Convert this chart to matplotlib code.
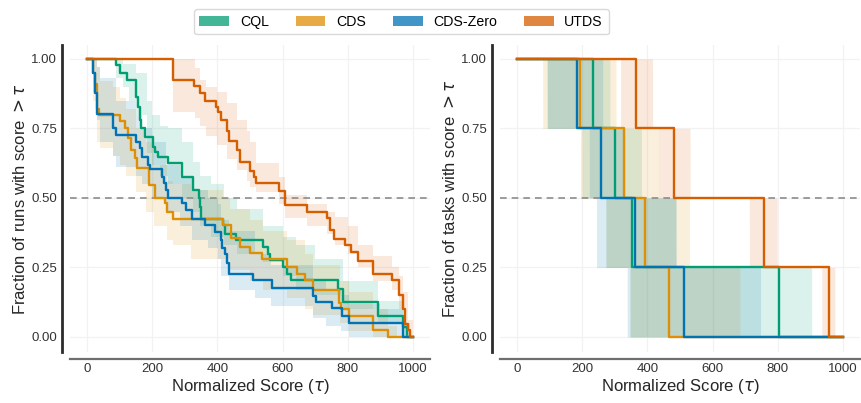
import numpy as np
import matplotlib
matplotlib.use('Agg')
import matplotlib.pyplot as plt
from matplotlib.patches import Patch

plt.rcParams['font.family'] = ['Liberation Sans', 'DejaVu Sans']
plt.rcParams['mathtext.fontset'] = 'dejavusans'

methods = ['CQL', 'CDS', 'CDS-Zero', 'UTDS']
colors = ['#029e73', '#de8f05', '#0173b2', '#d55e00']
xticks = [0, 200, 400, 600, 800, 1000]
yticks = [0.0, 0.25, 0.5, 0.75, 1.0]

# ---- Left panel: run score profiles (tau where the fraction changes, fraction from there on)
cql_tau = [0, 88, 102, 123, 151, 156, 162, 167, 177, 202, 208, 218, 248, 292, 325, 343, 346, 351,
           417, 422, 458, 540, 555, 560, 602, 612, 627, 770, 785, 893, 969, 980]
cql_frac = [1.0, 0.978, 0.948, 0.924, 0.864, 0.828, 0.780, 0.750, 0.720, 0.684, 0.666, 0.648, 0.624,
            0.576, 0.528, 0.498, 0.468, 0.426, 0.402, 0.372, 0.348, 0.324, 0.300, 0.276, 0.252, 0.228,
            0.204, 0.174, 0.126, 0.074, 0.036, 0.0]

cds_tau = [0, 19, 25, 30, 38, 100, 116, 126, 136, 147, 152, 190, 209, 239, 244, 263, 417, 441, 469,
           501, 536, 612, 645, 668, 693, 774, 779, 805, 878, 924]
cds_frac = [1.0, 0.95, 0.91, 0.82, 0.800, 0.776, 0.750, 0.714, 0.673, 0.643, 0.607, 0.545, 0.500,
            0.481, 0.451, 0.425, 0.403, 0.355, 0.325, 0.302, 0.280, 0.252, 0.228, 0.205, 0.170,
            0.124, 0.100, 0.076, 0.025, 0.0]

zero_tau = [0, 19, 24, 30, 80, 88, 149, 162, 170, 187, 193, 230, 235, 241, 249, 290, 305, 321, 363,
            393, 410, 414, 423, 430, 436, 510, 568, 694, 702, 751, 781, 805, 970]
zero_frac = [1.0, 0.948, 0.876, 0.802, 0.750, 0.725, 0.700, 0.678, 0.648, 0.620, 0.603, 0.576, 0.552,
             0.528, 0.500, 0.481, 0.457, 0.425, 0.402, 0.379, 0.348, 0.320, 0.300, 0.265, 0.228,
             0.204, 0.175, 0.147, 0.127, 0.103, 0.076, 0.050, 0.0]

utds_tau = [0, 265, 328, 346, 363, 395, 402, 410, 428, 435, 461, 470, 500, 512, 517, 590, 607, 676,
            737, 745, 757, 790, 810, 831, 876, 934, 958, 970, 974, 983, 990]
utds_frac = [1.0, 0.924, 0.903, 0.878, 0.850, 0.828, 0.810, 0.780, 0.742, 0.705, 0.672, 0.630, 0.598,
             0.575, 0.552, 0.526, 0.475, 0.451, 0.427, 0.385, 0.351, 0.331, 0.307, 0.274, 0.228,
             0.206, 0.150, 0.100, 0.048, 0.024, 0.0]

# confidence bands (left panel)
cql_band_tau = [0, 88, 112, 130, 150, 183, 198, 224, 249, 292, 325, 347, 380, 420, 460, 540, 600, 640,
                700, 786, 894, 970, 990]
cql_band_hi = [1, 1, 0.98, 0.98, 0.95, 0.85, 0.80, 0.76, 0.75, 0.70, 0.63, 0.58, 0.55, 0.50, 0.46,
               0.40, 0.36, 0.33, 0.28, 0.20, 0.13, 0.05, 0]
cql_band_lo = [1, 0.93, 0.90, 0.85, 0.80, 0.66, 0.62, 0.58, 0.55, 0.50, 0.45, 0.40, 0.36, 0.33, 0.30,
               0.27, 0.22, 0.17, 0.15, 0.10, 0.05, 0.0, 0]

cds_band_tau = [0, 18, 30, 40, 80, 101, 120, 150, 182, 205, 245, 264, 320, 417, 440, 500, 540, 612,
                668, 693, 775, 803, 877, 924, 950]
cds_band_hi = [1, 1, 0.97, 0.92, 0.90, 0.86, 0.82, 0.75, 0.70, 0.62, 0.56, 0.55, 0.53, 0.50, 0.46,
               0.42, 0.38, 0.35, 0.30, 0.26, 0.20, 0.16, 0.10, 0.04, 0]
cds_band_lo = [1, 0.85, 0.70, 0.68, 0.65, 0.62, 0.58, 0.52, 0.45, 0.40, 0.35, 0.33, 0.28, 0.28, 0.24,
               0.20, 0.17, 0.14, 0.10, 0.08, 0.05, 0.02, 0, 0, 0]

zero_band_tau = [0, 18, 30, 40, 80, 90, 150, 170, 200, 243, 284, 323, 371, 402, 412, 436, 514, 565,
                 693, 732, 780, 804, 900, 969, 985]
zero_band_hi = [1, 1, 0.97, 0.93, 0.93, 0.85, 0.80, 0.75, 0.70, 0.62, 0.57, 0.53, 0.50, 0.48, 0.42,
                0.38, 0.30, 0.26, 0.20, 0.17, 0.15, 0.12, 0.10, 0.05, 0]
zero_band_lo = [1, 0.88, 0.78, 0.70, 0.65, 0.61, 0.58, 0.55, 0.50, 0.45, 0.40, 0.35, 0.32, 0.28, 0.22,
                0.17, 0.14, 0.11, 0.07, 0.04, 0.02, 0, 0, 0, 0]

utds_band_tau = [0, 265, 330, 347, 365, 400, 430, 460, 490, 500, 518, 590, 607, 676, 737, 760, 800,
                 830, 876, 934, 958, 970, 985, 1000]
utds_band_hi = [1, 1, 0.966, 0.924, 0.90, 0.88, 0.84, 0.78, 0.74, 0.70, 0.627, 0.577, 0.51, 0.478,
                0.45, 0.43, 0.40, 0.33, 0.29, 0.25, 0.22, 0.16, 0.06, 0]
utds_band_lo = [1, 0.81, 0.786, 0.757, 0.721, 0.69, 0.64, 0.60, 0.56, 0.54, 0.52, 0.48, 0.427, 0.40,
                0.37, 0.33, 0.30, 0.25, 0.20, 0.17, 0.10, 0.03, 0, 0]

# ---- Right panel: task score profiles (score at which each of the 4 tasks drops)
task_med = {'CQL': [234, 301, 354, 805], 'CDS': [193, 328, 394, 467],
            'CDS-Zero': [185, 258, 362, 513], 'UTDS': [366, 481, 759, 958]}
task_lo = {'CQL': [93, 201, 273, 347], 'CDS': [79, 195, 273, 347],
           'CDS-Zero': [93, 222, 244, 338], 'UTDS': [318, 434, 713, 935]}
task_hi = {'CQL': [285, 382, 488, 904], 'CDS': [304, 434, 529, 684],
           'CDS-Zero': [263, 331, 488, 747], 'UTDS': [416, 531, 798, 975]}

run_curves = {'CQL': (cql_tau, cql_frac, cql_band_tau, cql_band_lo, cql_band_hi),
              'CDS': (cds_tau, cds_frac, cds_band_tau, cds_band_lo, cds_band_hi),
              'CDS-Zero': (zero_tau, zero_frac, zero_band_tau, zero_band_lo, zero_band_hi),
              'UTDS': (utds_tau, utds_frac, utds_band_tau, utds_band_lo, utds_band_hi)}

fig = plt.figure(figsize=(8.61, 4.03), dpi=100)
W, H = 861, 403
ax1 = fig.add_axes([70 / W, 51 / H, 360 / W, 307 / H])
ax2 = fig.add_axes([500 / W, 51 / H, 360 / W, 307 / H])


def decorate(ax, ylabel):
    ax.set_xlim(-52, 1052)
    ax.set_ylim(-0.054, 1.05)
    ax.set_xticks(xticks)
    ax.set_yticks(yticks)
    ax.set_yticklabels(['%.2f' % v for v in yticks])
    ax.grid(True, color='#f2f2f2', linewidth=0.9)
    ax.set_axisbelow(True)
    for s in ['top', 'right']:
        ax.spines[s].set_visible(False)
    ax.spines['left'].set_linewidth(2)
    ax.spines['left'].set_color('#2b2b2b')
    ax.spines['bottom'].set_linewidth(1.6)
    ax.spines['bottom'].set_color('#6e6e6e')
    ax.spines['left'].set_position(('outward', 5.8))
    ax.spines['bottom'].set_position(('outward', 5.0))
    ax.tick_params(length=0, labelsize=9.5, colors='#333333')
    ax.tick_params(axis='y', pad=3.5)
    ax.tick_params(axis='x', pad=3)
    ax.set_xlabel(r'Normalized Score ($\tau$)', fontsize=12, color='#262626', labelpad=1)
    ax.set_ylabel(ylabel, fontsize=12, color='#262626', labelpad=2)
    ax.axhline(0.5, color='#8c8c8c', linestyle=(0, (4, 3)), linewidth=1.2, zorder=1)


for m, c in zip(methods, colors):
    t, f, bt, blo, bhi = run_curves[m]
    bt_ext = np.r_[bt, 1000]
    ax1.fill_between(bt_ext, np.r_[blo, blo[-1]], np.r_[bhi, bhi[-1]], step='post',
                     color=c, alpha=0.14, linewidth=0)
for m, c in zip(methods, colors):
    t, f, bt, blo, bhi = run_curves[m]
    ax1.step(np.r_[t, 1000], np.r_[f, f[-1]], where='post', color=c, linewidth=1.7)

grid = np.linspace(0, 1000, 4001)


def frac_above(th):
    th = np.asarray(th, dtype=float)
    return (th[None, :] > grid[:, None]).mean(axis=1)


for m, c in zip(methods, colors):
    ax2.fill_between(grid, frac_above(task_lo[m]), frac_above(task_hi[m]),
                     color=c, alpha=0.14, linewidth=0)
for m, c in zip(methods, colors):
    th = sorted(task_med[m])
    xs = np.r_[0, th, 1000]
    ys = np.r_[1.0, 0.75, 0.5, 0.25, 0.0, 0.0]
    ax2.step(xs, ys, where='post', color=c, linewidth=1.7)

decorate(ax1, r'Fraction of runs with score $> \tau$')
decorate(ax2, r'Fraction of tasks with score $> \tau$')

handles = [Patch(facecolor=c, alpha=0.75, edgecolor='none') for c in colors]
fig.legend(handles, methods, loc='upper center', bbox_to_anchor=(0.466, 0.995), ncol=4,
           fontsize=10.2, frameon=True, fancybox=True, handlelength=2.1, handleheight=0.7,
           handletextpad=0.75, columnspacing=1.9, edgecolor='#d0d0d0', borderpad=0.4)

fig.savefig('out.png', dpi=100)
